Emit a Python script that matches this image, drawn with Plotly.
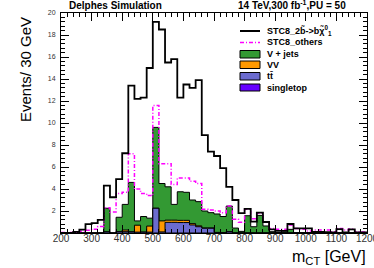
import numpy as np
import plotly.graph_objects as go

# ---------------- data (20 GeV bins from 200 to 1200) ----------------
bin_edges = list(range(200, 1201, 20))

stc8_2b = [0, 0, 0.1, 0.3, 0.8, 0.9, 1.2, 4.3, 3.25, 4.9,
           7.25, 13.4, 12.2, 12.3, 15.0, 19.2, 18.5, 15.5, 15.8, 12.3,
           13.5, 13.2, 13.9, 8.9, 7.4, 7.0, 5.9, 4.2, 3.0, 1.8,
           2.2, 1.03, 1.85, 1.0, 0.33, 0.2, 0.2, 0.82, 0.42, 0.42,
           0.42, 0.1, 0.1, 0.08, 0.06, 0.36, 0.06, 0.33, 0.06, 0.06]

stc8_others = [0.05, 0.05, 0.05, 0.15, 0.25, 0.35, 0.6, 2.3, 1.9, 3.6,
               3.7, 7.2, 4.0, 3.6, 3.4, 11.6, 6.3, 6.3, 4.4, 5.0,
               5.0, 4.7, 4.5, 2.15, 2.1, 2.0, 1.85, 2.45, 1.25, 0.97,
               2.15, 1.3, 1.8, 1.03, 0.42, 0.33, 0.33, 0.73, 0.42, 0.33,
               0.18, 0.27, 0.27, 0.27, 0.12, 0.42, 0.27, 0.36, 0.12, 0.1]

vjets = [0, 0, 0, 0, 0, 0, 0, 2.15, 0, 1.31,
         2.33, 4.5, 0.39, 1.42, 0.72, 7.35, 3.4, 3.03, 1.43, 2.6,
         2.55, 2.15, 2.2, 1.54, 1.39, 1.68, 1.47, 2.33, 0.45, 0.15,
         1.57, 0.57, 1.6, 0.64, 0.12, 0.05, 0.1, 0.33, 0.02, 0.02,
         0.02, 0.02, 0.02, 0.02, 0.02, 0.02, 0.02, 0.02, 0.02, 0.02]

vv = [0, 0, 0, 0, 0, 0, 0, 0, 0, 0,
      0.15, 0, 0.63, 0, 0.55, 0, 1.0, 0.2, 0.2, 0.2,
      0.2, 0.12, 0.08, 0.03, 0.03, 0, 0, 0, 0, 0,
      0, 0, 0, 0, 0, 0, 0, 0, 0, 0,
      0, 0, 0, 0, 0, 0, 0, 0, 0, 0]

ttbar = [0, 0, 0, 0, 0, 0, 0, 0.1, 0, 0.12,
         0.12, 0.1, 0.08, 0.08, 0.08, 2.25, 0.1, 0.97, 0.97, 0.95,
         0.95, 0.73, 0.57, 0.43, 0.43, 0.05, 0.03, 0.12, 0, 0,
         0, 0, 0, 0, 0, 0, 0, 0, 0, 0,
         0, 0, 0, 0, 0, 0, 0, 0, 0, 0]

singletop = [0] * 50

x_ticks = [200, 300, 400, 500, 600, 700, 800, 900, 1000, 1100, 1200]
y_ticks = [2, 4, 6, 8, 10, 12, 14, 16, 18, 20]

# ---------------- layout geometry ----------------
W, H = 374, 268
ML, MR, MT, MB = 61, 7, 13, 35
PW, PH = W - ML - MR, H - MT - MB
FONT = "Liberation Sans, Arial, Helvetica, sans-serif"


def px(x):
    return (x - ML) / PW


def py(y):
    return (H - MB - y) / PH


def step(vals):
    v = list(vals)
    return v + [v[-1]]


fig = go.Figure()

# stacked backgrounds (bottom-up: singletop, ttbar, VV, V+jets)
st = np.array(singletop, dtype=float)
c_tt = st + np.array(ttbar)
c_vv = c_tt + np.array(vv)
c_vj = c_vv + np.array(vjets)

for vals, col in [(c_vj, "#339933"), (c_vv, "#ff9900"),
                  (c_tt, "#6b6bcf"), (st, "#6600ff")]:
    fig.add_trace(go.Scatter(
        x=bin_edges, y=step(vals), mode="lines",
        line=dict(shape="hv", color="black", width=1),
        fill="tozeroy", fillcolor=col, hoverinfo="skip", showlegend=False))

fig.add_trace(go.Scatter(
    x=bin_edges, y=step(stc8_others), mode="lines",
    line=dict(shape="hv", color="#ff00ff", width=1.5, dash="4px,2px,1px,2px"),
    showlegend=False))
fig.add_trace(go.Scatter(
    x=bin_edges, y=step(stc8_2b), mode="lines",
    line=dict(shape="hv", color="black", width=1.8),
    showlegend=False))

# ---------------- legend (drawn by hand) ----------------
shapes = []
annos = []
leg_x0, leg_x1, txt_x = 240, 260, 265
shapes.append(dict(type="line", xref="paper", yref="paper",
                   x0=px(leg_x0), x1=px(leg_x1), y0=py(31), y1=py(31),
                   line=dict(color="black", width=2)))
shapes.append(dict(type="line", xref="paper", yref="paper",
                   x0=px(leg_x0), x1=px(leg_x1), y0=py(42.5), y1=py(42.5),
                   line=dict(color="#ff00ff", width=1.5, dash="4px,2px,1px,2px")))
boxes = [(50.5, 58, "#339933"), (61, 68.5, "#ff9900"),
         (72.5, 80, "#6b6bcf"), (84, 91, "#6600ff")]
for y0, y1, col in boxes:
    shapes.append(dict(type="rect", xref="paper", yref="paper",
                       x0=px(leg_x0), x1=px(leg_x1), y0=py(y1), y1=py(y0),
                       fillcolor=col, line=dict(color="black", width=1)))

leg_texts = [(31, "STC8_2b\u0303->b\u03c7\u0303<sup>0</sup><sub>1</sub>"),
             (42.5, "STC8_others"),
             (54.3, "V + jets"), (65, "VV"), (76.3, "tt\u0304"),
             (87.5, "singletop")]
for yy, t in leg_texts:
    annos.append(dict(xref="paper", yref="paper", x=px(txt_x), y=py(yy),
                      xanchor="left", yanchor="middle", showarrow=False,
                      text="<b>" + t + "</b>",
                      font=dict(family=FONT, size=9, color="black")))

# header texts
annos.append(dict(xref="paper", yref="paper", x=px(67), y=py(5.5),
                  xanchor="left", yanchor="middle", showarrow=False,
                  text="<b>Delphes Simulation</b>",
                  font=dict(family=FONT, size=10, color="black")))
annos.append(dict(xref="paper", yref="paper", x=px(348), y=py(5.5),
                  xanchor="right", yanchor="middle", showarrow=False,
                  text="<b>14 TeV,300 fb<sup>-1</sup>,PU = 50</b>",
                  font=dict(family=FONT, size=10, color="black")))
# axis titles
annos.append(dict(xref="paper", yref="paper", x=px(26), y=py(70),
                  xanchor="center", yanchor="middle", showarrow=False,
                  textangle=-90, text="Events/ 30 GeV",
                  font=dict(family=FONT, size=15, color="black")))
annos.append(dict(xref="paper", yref="paper", x=px(368), y=py(257),
                  xanchor="right", yanchor="middle", showarrow=False,
                  text="m<sub>CT</sub> [GeV]",
                  font=dict(family=FONT, size=16, color="black")))

fig.update_layout(
    width=W, height=H, margin=dict(l=ML, r=MR, t=MT, b=MB, autoexpand=False),
    paper_bgcolor="white", plot_bgcolor="white",
    shapes=shapes, annotations=annos, showlegend=False,
    xaxis=dict(range=[200, 1200], showgrid=False, zeroline=False,
               automargin=False,
               showline=True, linecolor="black", linewidth=1,
               mirror="allticks", ticks="inside", ticklen=8, tickwidth=1,
               tickcolor="black", tickmode="array", tickvals=x_ticks,
               ticklabeloverflow="allow", ticklabelstandoff=-4,
               minor=dict(ticks="inside", ticklen=4, tickmode="linear",
                          tick0=200, dtick=20, tickcolor="black", showgrid=False),
               tickfont=dict(family=FONT, size=10, color="#333")),
    yaxis=dict(range=[0, 20], showgrid=False, zeroline=False,
               automargin=False,
               showline=True, linecolor="black", linewidth=1,
               mirror="allticks", ticks="inside", ticklen=8, tickwidth=1,
               tickcolor="black", tickmode="array", tickvals=y_ticks,
               minor=dict(ticks="inside", ticklen=4, tickmode="linear",
                          tick0=0, dtick=0.4, tickcolor="black", showgrid=False),
               tickfont=dict(family=FONT, size=7, color="#333"),
               ticklabelstandoff=3),
)

fig.write_html("out.html",
               config={"displayModeBar": False},
               post_script="document.body.style.margin='0';"
                           "document.body.style.overflow='hidden';")
